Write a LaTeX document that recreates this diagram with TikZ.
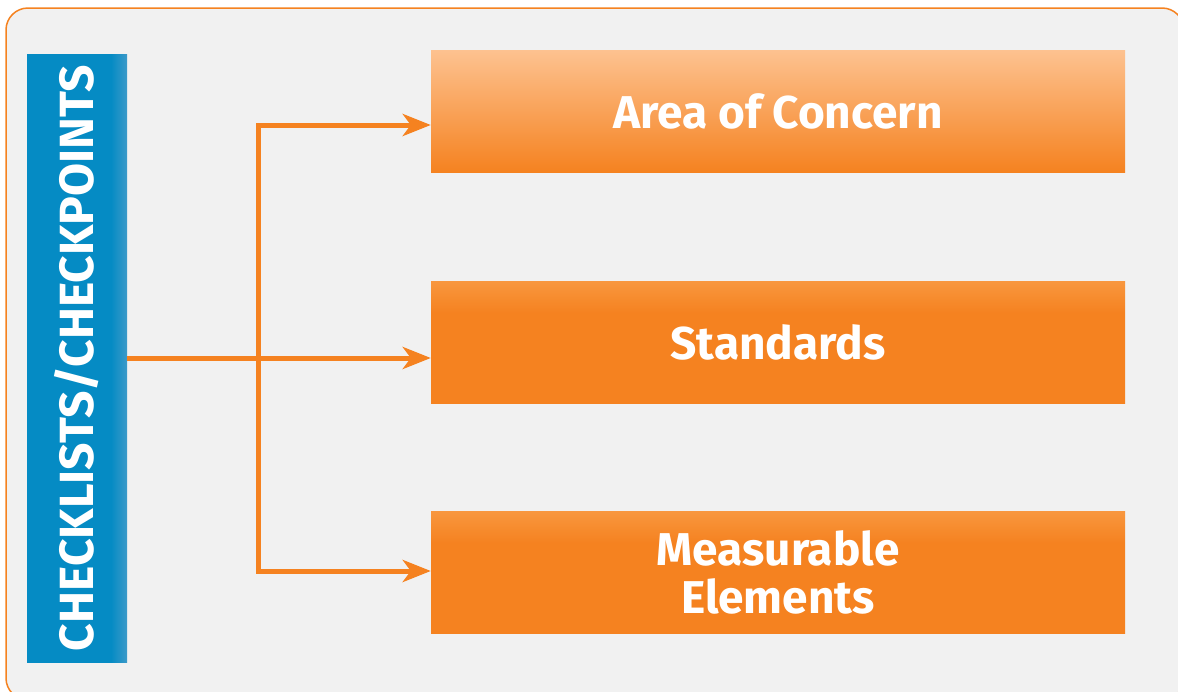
\documentclass[tikz,border=0pt]{standalone}
\usepackage{fontspec}
\setmainfont{Fira Sans}
\usetikzlibrary{arrows.meta,positioning,calc}

\definecolor{framegray}{HTML}{F1F1F1}
\definecolor{linkorange}{HTML}{F58220}
\definecolor{paleorange}{HTML}{FDC290}
\definecolor{softorange}{HTML}{F8973F}
\definecolor{barblue}{HTML}{058BC4}
\definecolor{edgeblue}{HTML}{3C9AC9}

\pgfdeclarehorizontalshading{barshade}{100bp}{color(0bp)=(barblue); color(67bp)=(barblue); color(75bp)=(edgeblue); color(100bp)=(edgeblue)}
\pgfdeclareverticalshading{boxshade}{100bp}{color(0bp)=(linkorange); color(62bp)=(linkorange); color(75bp)=(softorange); color(100bp)=(softorange)}

\tikzset{
  itembox/.style={minimum width=694pt,minimum height=122pt,inner sep=0pt,
    text=white,font=\fontsize{46}{48}\selectfont\bfseries,align=center},
  link/.style={draw=linkorange,line width=5pt,
    -{Stealth[length=28pt,width=22pt,inset=8pt]}},
}

\begin{document}
\begin{tikzpicture}[x=1pt,y=-1pt]
\useasboundingbox (0,0) rectangle (1178,691);
\begin{scope}
\clip (0,0) rectangle (1178,691);
\draw[linkorange,line width=1.5pt,fill=framegray,rounded corners=22pt] (6,8) rectangle (1184,700);
\end{scope}

% side bar
\node[minimum width=100pt,minimum height=608pt,inner sep=0pt,shading=barshade] (bar) at (77,358) {};
\node[rotate=90,text=white,font=\fontsize{48}{48}\selectfont\bfseries] (barlabel) at (bar.center) {CHECKLISTS/CHECKPOINTS};

% the three boxes
\node[itembox,top color=paleorange,bottom color=linkorange,text depth=0pt] (area) at (778,111) {Area of Concern};
\node[itembox,shading=boxshade,text depth=0pt] (std) at (778,342) {Standards};
\node[itembox,shading=boxshade] (meas) at (778,572) {Measurable\\Elements};

\coordinate (fork) at (258,358);

% connectors
\draw[link] (bar.east |- fork) -- ($(std.west)+(0,16)$);
\draw[link] (fork) |- ($(area.west)+(0,14)$);
\draw[link] (fork) |- ($(meas.west)+(0,-1)$);
\end{tikzpicture}
\end{document}
